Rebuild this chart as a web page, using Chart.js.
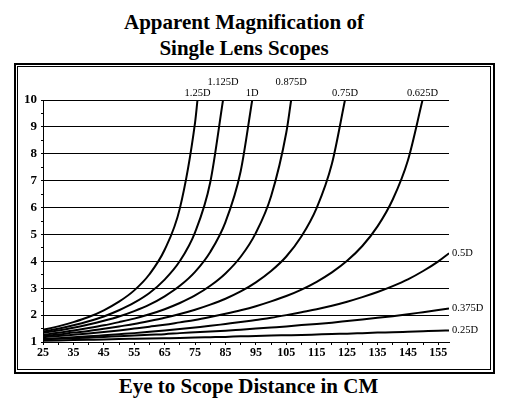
<!DOCTYPE html>
<html>
<head>
<meta charset="utf-8">
<script src="https://cdn.jsdelivr.net/npm/chart.js@4/dist/chart.umd.min.js"></script>
<style>
  body { margin: 0; background: #fff; }
  #page { position: relative; width: 510px; height: 412px; overflow: hidden; }
  .frame-outer { position: absolute; left: 14px; top: 63px; width: 477px; height: 307px; border: 2px solid #000; }
  .frame-inner { position: absolute; left: 17px; top: 66px; width: 472px; height: 302px; border: 1px solid #000; }
  .title { position: absolute; left: 0; width: 488px; top: 9px; text-align: center;
           font: bold 21px/26px "Liberation Serif", "Times New Roman", serif; }
  .xtitle { position: absolute; left: 0; width: 497px; top: 373px; text-align: center;
            font: bold 21px/26px "Liberation Serif", "Times New Roman", serif; }
  canvas { position: absolute; left: 0; top: 0; }
</style>
</head>
<body>
<div id="page">
  <div class="frame-outer"></div>
  <div class="frame-inner"></div>
  <div class="title">Apparent Magnification of<br>Single Lens Scopes</div>
  <div class="xtitle">Eye to Scope Distance in CM</div>
  <canvas id="scopeChart" width="510" height="412"></canvas>
</div>
<script>
// eye to scope distance (cm)
const distances = [25, 30, 35, 40, 45, 50, 55, 60, 65, 70, 75, 80, 85, 90, 95,
                   100, 105, 110, 115, 120, 125, 130, 135, 140, 145, 150, 155, 158.5];

const lensNames = ['1.25D', '1.125D', '1D', '0.875D', '0.75D', '0.625D', '0.5D', '0.375D', '0.25D'];

// apparent magnification (null once a curve has left the top)
const mag125  = [1.45, 1.58, 1.74, 1.93, 2.18, 2.50, 2.92, 3.52, 4.43, 5.97, 9.16,
                 null, null, null, null, null, null, null, null, null, null, null, null, null, null, null, null, null];
const mag1125 = [1.39, 1.49, 1.62, 1.77, 1.95, 2.18, 2.46, 2.82, 3.32, 4.01, 5.08, 6.94,
                 null, null, null, null, null, null, null, null, null, null, null, null, null, null, null, null];
const mag100  = [1.34, 1.43, 1.53, 1.65, 1.79, 1.95, 2.15, 2.39, 2.70, 3.09, 3.61, 4.35, 5.46, 7.35,
                 null, null, null, null, null, null, null, null, null, null, null, null, null, null];
const mag0875 = [1.27, 1.34, 1.43, 1.52, 1.62, 1.74, 1.87, 2.03, 2.22, 2.45, 2.73, 3.09, 3.55, 4.17, 5.06, 6.42, 8.79,
                 null, null, null, null, null, null, null, null, null, null, null];
const mag075  = [1.23, 1.28, 1.35, 1.41, 1.49, 1.58, 1.67, 1.78, 1.90, 2.04, 2.20, 2.39, 2.61, 2.88, 3.22, 3.64, 4.18,
                 4.93, 5.99, 7.63, null, null, null, null, null, null, null, null];
const mag0625 = [1.18, 1.22, 1.27, 1.32, 1.37, 1.43, 1.50, 1.57, 1.64, 1.73, 1.82, 1.93, 2.05, 2.18, 2.33, 2.51, 2.71,
                 2.95, 3.24, 3.59, 4.02, 4.57, 5.30, 6.30, 7.76, null, null, null];
const mag05   = [1.11, 1.14, 1.18, 1.21, 1.25, 1.29, 1.33, 1.38, 1.43, 1.48, 1.54, 1.60, 1.67, 1.74, 1.82, 1.90, 2.00,
                 2.11, 2.22, 2.35, 2.50, 2.67, 2.86, 3.08, 3.33, 3.64, 4.00, 4.30];
const mag0375 = [1.10, 1.12, 1.14, 1.16, 1.19, 1.21, 1.24, 1.27, 1.29, 1.33, 1.36, 1.39, 1.42, 1.46, 1.50, 1.54, 1.58,
                 1.63, 1.67, 1.72, 1.78, 1.84, 1.90, 1.96, 2.03, 2.11, 2.19, 2.25];
const mag025  = [1.05, 1.06, 1.07, 1.08, 1.09, 1.11, 1.12, 1.13, 1.14, 1.15, 1.17, 1.18, 1.19, 1.21, 1.22, 1.24, 1.25,
                 1.26, 1.28, 1.30, 1.31, 1.33, 1.35, 1.36, 1.38, 1.40, 1.42, 1.43];

const magnifications = [mag125, mag1125, mag100, mag0875, mag075, mag0625, mag05, mag0375, mag025];

// distance where each curve reaches 10x (null = runs off the right side)
const topOut = [75.8, 84.2, 93.8, 106.6, 124.3, 149.8, null, null, null];

// where each curve's name goes
const labelSpot = ['low', 'high', 'low', 'high', 'low', 'low', 'right', 'right', 'right'];

const datasets = lensNames.map(function(name, i) {
    const pts = [];
    distances.forEach(function(d, j) {
        if (magnifications[i][j] !== null) pts.push({ x: d, y: magnifications[i][j] });
    });
    if (topOut[i] !== null) pts.push({ x: topOut[i], y: 10 });
    return {
        label: name,
        data: pts,
        borderColor: '#000',
        borderWidth: 2,
        pointRadius: 0,
        fill: false,
        cubicInterpolationMode: 'monotone'
    };
});

// writes the lens names at the end of each curve
const curveLabels = {
    id: 'curveLabels',
    afterDatasetsDraw(chart) {
        const c = chart.ctx;
        const area = chart.chartArea;
        c.save();
        c.fillStyle = '#000';
        c.font = '10.5px "Liberation Serif", "Times New Roman", serif';
        c.textBaseline = 'middle';
        chart.data.datasets.forEach(function(ds, i) {
            const pts = chart.getDatasetMeta(i).data;
            const end = pts[pts.length - 1];
            if (labelSpot[i] === 'right') {
                c.textAlign = 'left';
                c.fillText(ds.label, end.x + 3, end.y);
            } else {
                c.textAlign = 'center';
                const dy = labelSpot[i] === 'high' ? 18 : 7;
                c.fillText(ds.label, end.x, area.top - dy);
            }
        });
        c.restore();
    }
};

new Chart(document.getElementById('scopeChart'), {
    type: 'line',
    data: { datasets: datasets },
    plugins: [curveLabels],
    options: {
        responsive: false,
        animation: false,
        devicePixelRatio: 1,
        layout: { padding: { left: 0, right: 61, top: 100, bottom: 50 } },
        plugins: {
            legend: { display: false },
            tooltip: { enabled: false }
        },
        scales: {
            x: {
                type: 'linear',
                min: 25,
                max: 158.5,
                afterFit: function(scale) { scale.height = 20; },
                ticks: {
                    stepSize: 5,
                    includeBounds: false,
                    autoSkip: false,
                    maxRotation: 0,
                    padding: 1,
                    color: '#000',
                    font: { family: 'Liberation Serif', size: 12, weight: 'bold' },
                    callback: function(v) { return Math.round(v - 25) % 10 === 0 ? v : ''; }
                },
                grid: {
                    drawOnChartArea: false,
                    tickLength: 3,
                    tickColor: '#000'
                },
                border: { color: '#000', width: 1 }
            },
            y: {
                min: 1,
                max: 10,
                afterFit: function(scale) { scale.width = 43; },
                ticks: {
                    stepSize: 0.5,
                    autoSkip: false,
                    padding: 4,
                    color: '#000',
                    font: { family: 'Liberation Serif', size: 13, weight: 'bold' },
                    callback: function(v) { return Number.isInteger(v) ? v : ''; }
                },
                grid: {
                    color: function(ctx) {
                        return ctx.tick && Number.isInteger(ctx.tick.value) ? '#000' : 'rgba(0,0,0,0)';
                    },
                    tickLength: 2,
                    tickColor: '#000'
                },
                border: { color: '#000', width: 1 }
            }
        }
    }
});
</script>
</body>
</html>
